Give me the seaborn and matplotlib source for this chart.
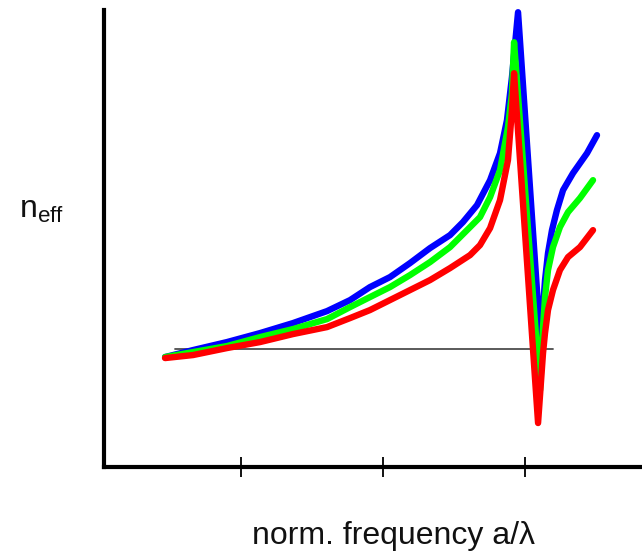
import matplotlib
matplotlib.use("Agg")
from matplotlib import pyplot as plt
import numpy as np
import pandas as pd
import seaborn as sns

# effective index vs normalised frequency, three bands
blue_x = [0.465, 0.662, 0.901, 1.134, 1.366, 1.606, 1.768, 1.908, 2.049, 2.190,
          2.331, 2.472, 2.563, 2.662, 2.754, 2.824, 2.873, 2.908, 2.951,
          3.113, 3.127, 3.141, 3.162, 3.190, 3.225, 3.268, 3.338, 3.437, 3.507]
blue_y = [1.10, 1.17, 1.25, 1.34, 1.44, 1.56, 1.67, 1.80, 1.90, 2.04,
          2.19, 2.32, 2.45, 2.62, 2.87, 3.14, 3.47, 3.90, 4.55,
          1.17, 1.60, 1.87, 2.14, 2.37, 2.57, 2.77, 2.94, 3.14, 3.32]

green_x = [0.465, 0.662, 0.901, 1.134, 1.366, 1.606, 1.768, 1.908, 2.049, 2.190,
           2.331, 2.472, 2.613, 2.683, 2.754, 2.824, 2.880, 2.908, 2.923,
           3.106, 3.127, 3.141, 3.162, 3.197, 3.246, 3.303, 3.387, 3.479]
green_y = [1.10, 1.15, 1.21, 1.30, 1.38, 1.48, 1.60, 1.70, 1.80, 1.92,
           2.05, 2.20, 2.40, 2.50, 2.70, 2.97, 3.40, 3.74, 4.25,
           0.77, 1.40, 1.70, 1.97, 2.20, 2.40, 2.55, 2.69, 2.87]

red_x = [0.465, 0.662, 0.901, 1.134, 1.366, 1.606, 1.768, 1.908, 2.049, 2.190,
         2.331, 2.472, 2.613, 2.683, 2.754, 2.824, 2.880, 2.908, 2.923,
         3.092, 3.127, 3.141, 3.162, 3.197, 3.246, 3.303, 3.387, 3.479]
red_y = [1.09, 1.12, 1.19, 1.25, 1.33, 1.40, 1.49, 1.57, 1.67, 1.77,
         1.87, 1.99, 2.12, 2.22, 2.39, 2.67, 3.07, 3.57, 3.94,
         0.44, 1.14, 1.34, 1.57, 1.77, 1.97, 2.10, 2.20, 2.37]

ref_x = [0.535, 3.197]
ref_y = [1.18, 1.18]

xticks = [1, 2, 3]

sns.set_style("white")
plt.rcParams['font.family'] = ['Liberation Sans', 'DejaVu Sans']
plt.rcParams['mathtext.fontset'] = 'custom'
plt.rcParams['mathtext.rm'] = 'Liberation Sans'

df = pd.concat([
    pd.DataFrame({'freq': blue_x, 'neff': blue_y, 'band': 'blue'}),
    pd.DataFrame({'freq': green_x, 'neff': green_y, 'band': 'green'}),
    pd.DataFrame({'freq': red_x, 'neff': red_y, 'band': 'red'}),
], ignore_index=True)

fig = plt.figure(figsize=(6.42, 5.53), dpi=100)
ax = fig.add_axes([0.162, 0.1555, 0.838, 0.826])

ax.plot(ref_x, ref_y, color='#4d4d4d', lw=1.3, zorder=1)
sns.lineplot(data=df, x='freq', y='neff', hue='band',
             palette={'blue': '#0000ff', 'green': '#00ff00', 'red': '#ff0000'},
             hue_order=['blue', 'green', 'red'], sort=False, estimator=None,
             lw=4.6, legend=False, ax=ax, clip_on=False,
             solid_joinstyle='round', solid_capstyle='round', zorder=2)

ax.set_xlim(0.035, 3.824)
ax.set_ylim(0, 4.57)
ax.set_xticks(xticks)
ax.set_yticks([])
ax.tick_params(axis='x', bottom=True, direction='inout', length=14, width=1.3,
               color='black', labelbottom=False)
for s in ['top', 'right']:
    ax.spines[s].set_visible(False)
for s in ['left', 'bottom']:
    ax.spines[s].set_color('black')
    ax.spines[s].set_linewidth(3)

ax.set_xlabel('norm. frequency a/\u03bb', fontsize=23, color='#111111')
ax.xaxis.set_label_coords(0.539, -0.119)
ax.set_ylabel(r'n$_{\mathregular{eff}}$', fontsize=23, rotation=0,
              ha='center', va='center', color='#111111')
ax.yaxis.set_label_coords(-0.117, 0.562)

fig.savefig('out.png', dpi=100, facecolor='white')
